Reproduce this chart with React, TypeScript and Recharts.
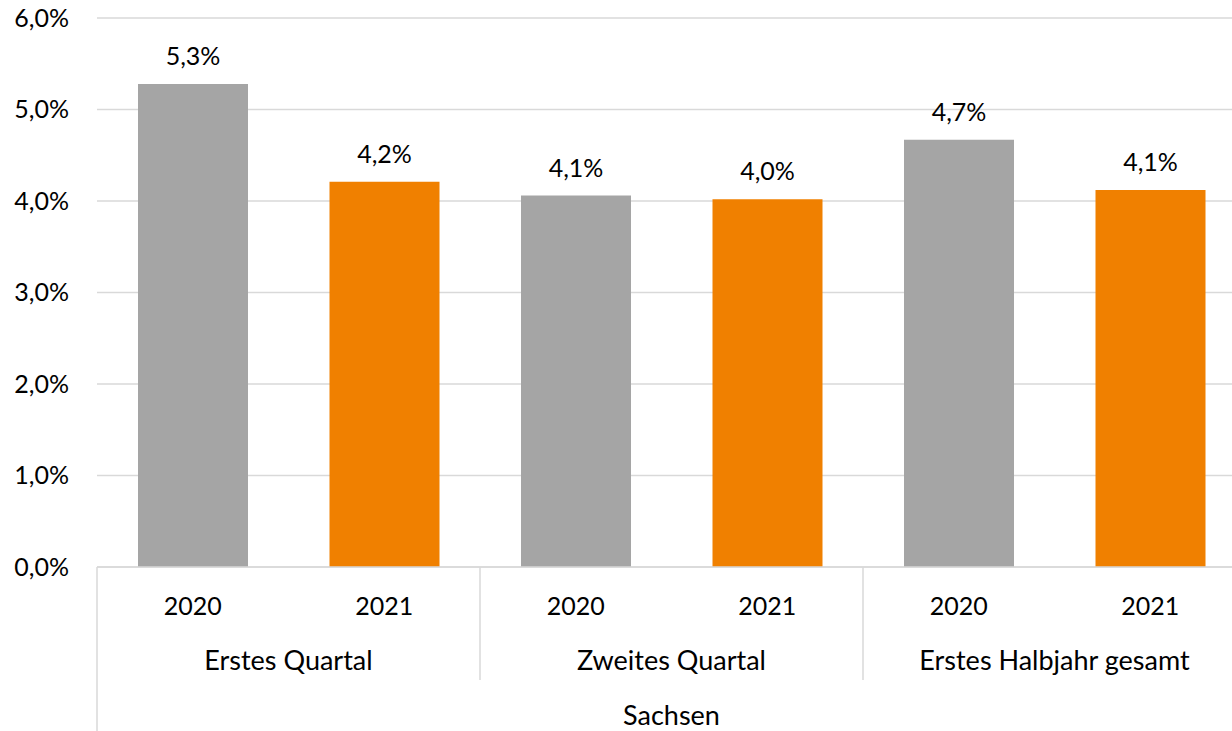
import React from 'react';
import { BarChart, Bar, XAxis, YAxis, CartesianGrid, Cell, LabelList } from 'recharts';

const years = ['2020', '2021', '2020', '2021', '2020', '2021'];
const groups = ['Erstes Quartal', 'Zweites Quartal', 'Erstes Halbjahr gesamt'];
const region = 'Sachsen';
const values = [0.0528, 0.0421, 0.0406, 0.0402, 0.0467, 0.0412];
const yTicks = [0, 0.01, 0.02, 0.03, 0.04, 0.05, 0.06];
const yearColors: Record<string, string> = { '2020': '#A5A5A5', '2021': '#F08000' };

const data = values.map((v, i) => ({ key: `c${i}`, year: years[i], value: v }));

const CHART_W = 1246;
const CHART_H = 731;
const Y_AXIS_W = 97;
const X_AXIS_H = 164;
const MARGIN = { top: 18, right: 0, bottom: 0, left: 0 };
const PLOT_W = CHART_W - Y_AXIS_W - MARGIN.left - MARGIN.right;
const CAT_W = PLOT_W / values.length;
const PLOT_BOTTOM = CHART_H - X_AXIS_H - MARGIN.bottom;
const FONT = 'Lato, "Open Sans", sans-serif';
const FS = 25;
const FS_TEXT = 27;
const GRID = '#D9D9D9';

const pct = (v: number) => (v * 100).toFixed(1).replace('.', ',') + '%';

function CatTick(props: any) {
  const { x, payload } = props;
  const i = payload.index;
  const els: React.ReactNode[] = [];
  els.push(
    <text key="yr" x={x} y={PLOT_BOTTOM + 48} textAnchor="middle" fontSize={FS} fontFamily={FONT} fill="#000">
      {years[i]}
    </text>
  );
  if (i % 2 === 0) {
    const left = x - CAT_W / 2;
    els.push(
      <text key="gr" x={left + CAT_W} y={PLOT_BOTTOM + 103} textAnchor="middle" fontSize={FS_TEXT} fontFamily={FONT} fill="#000">
        {groups[i / 2]}
      </text>
    );
    els.push(
      <line key="sep" x1={left} x2={left} y1={PLOT_BOTTOM} y2={i === 0 ? CHART_H : PLOT_BOTTOM + 113} stroke={GRID} strokeWidth={1.5} />
    );
    if (i === 0) {
      els.push(
        <text key="rg" x={left + PLOT_W / 2} y={PLOT_BOTTOM + 158} textAnchor="middle" fontSize={FS_TEXT} fontFamily={FONT} fill="#000">
          {region}
        </text>
      );
    }
  }
  return <g>{els}</g>;
}

export default function App() {
  return (
    <div style={{ position: 'absolute', left: 0, top: 0, width: 1232, height: 731, overflow: 'hidden', background: '#fff' }}>
      <BarChart width={CHART_W} height={CHART_H} data={data} margin={MARGIN} barSize={110}>
        <CartesianGrid vertical={false} stroke={GRID} strokeWidth={1.5} />
        <YAxis
          width={Y_AXIS_W}
          domain={[0, 0.06]}
          ticks={yTicks}
          tickFormatter={pct}
          axisLine={false}
          tickLine={false}
          tickSize={0}
          tickMargin={28}
          tick={{ fill: '#000', fontSize: FS, fontFamily: FONT }}
        />
        <XAxis
          dataKey="key"
          height={X_AXIS_H}
          interval={0}
          axisLine={{ stroke: GRID, strokeWidth: 1.5 }}
          tickLine={false}
          tick={<CatTick />}
        />
        <Bar dataKey="value" isAnimationActive={false}>
          {data.map((d, i) => (
            <Cell key={i} fill={yearColors[d.year]} />
          ))}
          <LabelList
            dataKey="value"
            position="top"
            offset={19}
            formatter={(v: any) => pct(Number(v))}
            style={{ fill: '#000', fontSize: FS, fontFamily: FONT }}
          />
        </Bar>
      </BarChart>
    </div>
  );
}
